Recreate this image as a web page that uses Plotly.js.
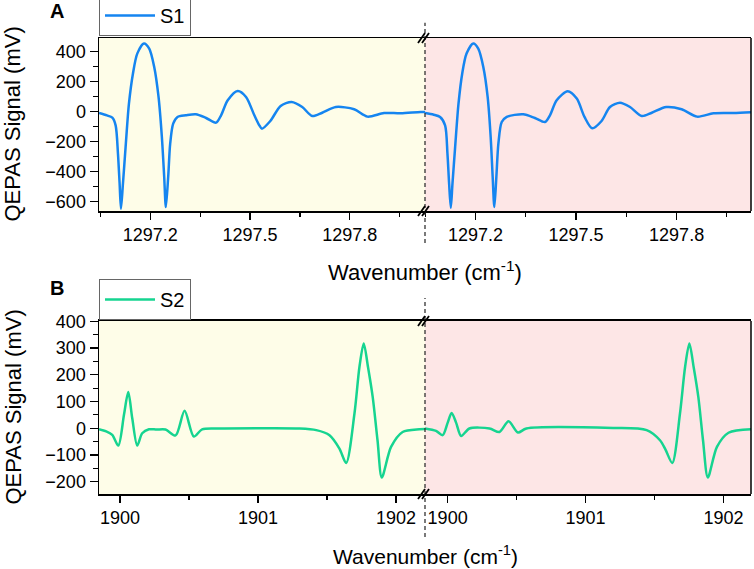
<!DOCTYPE html>
<html>
<head>
<meta charset="utf-8">
<script src="https://cdn.plot.ly/plotly-3.0.1.min.js"></script>
<style>html,body{margin:0;padding:0;background:#fff;}#chart{width:754px;height:569px;}</style>
</head>
<body>
<div id="chart"></div>
<script>
// ---- Panel A (S1) ----
const s1LeftX = [1297.046, 1297.070, 1297.086, 1297.096, 1297.103, 1297.108, 1297.112, 1297.118, 1297.126, 1297.136, 1297.148, 1297.161, 1297.181, 1297.197, 1297.212, 1297.225, 1297.235, 1297.242, 1297.247, 1297.254, 1297.260, 1297.269, 1297.282, 1297.307, 1297.337, 1297.368, 1297.398, 1297.413, 1297.433, 1297.463, 1297.488, 1297.513, 1297.528, 1297.536, 1297.561, 1297.592, 1297.625, 1297.657, 1297.687, 1297.717, 1297.758, 1297.813, 1297.853, 1297.903, 1297.953, 1298.013, 1298.026];
const s1LeftY = [-9, -25, -40, -91, -280, -480, -647, -480, -235, 53, 253, 387, 454, 420, 298, 98, -169, -435, -636, -435, -213, -80, -35, -24, -17, -42, -73, -24, 76, 138, 98, -24, -91, -113, -62, 38, 65, 31, -29, -7, 31, 16, -33, -9, -11, -2, -3];
const s1RightX = [1297.049, 1297.075, 1297.094, 1297.109, 1297.116, 1297.121, 1297.126, 1297.131, 1297.139, 1297.149, 1297.160, 1297.173, 1297.193, 1297.208, 1297.223, 1297.236, 1297.245, 1297.251, 1297.256, 1297.262, 1297.268, 1297.278, 1297.293, 1297.342, 1297.377, 1297.407, 1297.422, 1297.442, 1297.475, 1297.502, 1297.525, 1297.548, 1297.576, 1297.601, 1297.631, 1297.661, 1297.696, 1297.726, 1297.769, 1297.815, 1297.861, 1297.910, 1297.969, 1298.022];
const s1RightY = [-9, -20, -35, -91, -280, -480, -640, -480, -235, 53, 253, 387, 454, 420, 298, 98, -169, -435, -636, -435, -213, -69, -35, -17, -42, -69, -24, 76, 136, 87, -35, -111, -62, 31, 60, 31, -29, -7, 31, 16, -33, -11, -9, -4];

// ---- Panel B (S2) ----
const s2LeftX = [1899.848, 1899.900, 1899.944, 1899.988, 1900.029, 1900.060, 1900.089, 1900.125, 1900.161, 1900.210, 1900.265, 1900.330, 1900.403, 1900.468, 1900.535, 1900.595, 1900.716, 1901.000, 1901.301, 1901.422, 1901.518, 1901.590, 1901.639, 1901.699, 1901.735, 1901.766, 1901.797, 1901.831, 1901.866, 1901.897, 1901.964, 1902.048, 1902.169, 1902.210];
const s2LeftY = [-4, -12, -25, -65, 50, 135, 37, -65, -19, -4, -5, -5, -27, 65, -31, -4, -1, 0, -1, -7, -26, -76, -130, 55, 229, 317, 229, 117, -45, -184, -70, -14, -4, -3];
const s2RightX = [1899.836, 1899.916, 1899.964, 1900.000, 1900.029, 1900.062, 1900.098, 1900.158, 1900.304, 1900.376, 1900.442, 1900.510, 1900.571, 1901.200, 1901.443, 1901.540, 1901.580, 1901.629, 1901.685, 1901.722, 1901.753, 1901.784, 1901.818, 1901.852, 1901.887, 1901.953, 1902.037, 1902.202];
const s2RightY = [-1, -10, -26, 20, 57, 20, -29, -1, -1, -14, 26, -16, -1, 1, -7, -45, -80, -130, 55, 229, 317, 229, 117, -45, -184, -70, -17, -4];

const seriesNames = ["S1", "S2"];
const xTitle = "Wavenumber (cm<sup>-1</sup>)";
const yTitle = "QEPAS Signal (mV)";
const panelLabels = ["A", "B"];

const blue = "#1585f0";
const green = "#16d490";
const yellowBg = "#fefde8";
const pinkBg = "#fde6e6";
const FONT = "Liberation Sans, Arial, sans-serif";

const lineStyle = (c) => ({color: c, width: 2.5, shape: "spline", smoothing: 0.8});

const traces = [
  {x: s1LeftX, y: s1LeftY, xaxis: "x", yaxis: "y", mode: "lines", name: seriesNames[0], line: lineStyle(blue), legend: "legend"},
  {x: s1RightX, y: s1RightY, xaxis: "x2", yaxis: "y", mode: "lines", name: seriesNames[0], line: lineStyle(blue), showlegend: false},
  {x: s2LeftX, y: s2LeftY, xaxis: "x3", yaxis: "y2", mode: "lines", name: seriesNames[1], line: lineStyle(green), legend: "legend2"},
  {x: s2RightX, y: s2RightY, xaxis: "x4", yaxis: "y2", mode: "lines", name: seriesNames[1], line: lineStyle(green), showlegend: false}
];

const tickFont = {family: FONT, size: 18, color: "#000"};
function xAx(domain, anchor, range, tick0, dtick, mdtick) {
  return {domain: domain, anchor: anchor, range: range, tick0: tick0, dtick: dtick,
    showline: true, mirror: true, linecolor: "#000", linewidth: 1.5,
    ticks: "outside", ticklen: 7, tickwidth: 1.3, tickcolor: "#000",
    minor: {tick0: tick0, dtick: mdtick, ticks: "outside", ticklen: 4, tickwidth: 1.2, tickcolor: "#000", showgrid: false},
    showgrid: false, zeroline: false, tickfont: tickFont, tickformat: dtick < 1 ? ".1f" : "d"};
}
function yAx(domain, anchor, range, dtick, mdtick) {
  return {domain: domain, anchor: anchor, range: range, tick0: 0, dtick: dtick,
    showline: true, mirror: false, linecolor: "#000", linewidth: 1.5,
    ticks: "outside", ticklen: 8, tickwidth: 1.3, tickcolor: "#000",
    minor: {tick0: 0, dtick: mdtick, ticks: "outside", ticklen: 5, tickwidth: 1.2, tickcolor: "#000", showgrid: false},
    showgrid: false, zeroline: false, tickfont: tickFont};
}

const dA = [0.6206, 1], dB = [0, 0.3794];

const shapes = [];
function bg(xr, yr, color) {
  shapes.push({type: "rect", xref: xr + " domain", yref: yr + " domain", x0: 0, x1: 1, y0: 0, y1: 1, fillcolor: color, line: {width: 0}, layer: "below"});
}
bg("x", "y", yellowBg); bg("x2", "y", pinkBg); bg("x3", "y2", yellowBg); bg("x4", "y2", pinkBg);
// right borders
shapes.push({type: "line", xref: "paper", yref: "y domain", x0: 1, x1: 1, y0: 0, y1: 1, line: {color: "#000", width: 1.5}});
shapes.push({type: "line", xref: "paper", yref: "y2 domain", x0: 1, x1: 1, y0: 0, y1: 1, line: {color: "#000", width: 1.5}});
// dashed break lines
shapes.push({type: "line", xref: "paper", yref: "paper", x0: 0.5, x1: 0.5, y0: 0.5504, y1: 1.0335, line: {color: "#333", width: 1.3, dash: "4px,3px"}});
shapes.push({type: "line", xref: "paper", yref: "paper", x0: 0.5, x1: 0.5, y0: -0.0943, y1: 0.4298, line: {color: "#333", width: 1.3, dash: "4px,3px"}});
// break marks //
[dA[0], dA[1], dB[0], dB[1]].forEach(function (yy) {
  [-4, 0].forEach(function (off) {
    shapes.push({type: "line", xref: "paper", xsizemode: "pixel", xanchor: 0.5, x0: off - 3, x1: off + 4,
      yref: "paper", ysizemode: "pixel", yanchor: yy, y0: -5, y1: 5, line: {color: "#000", width: 1.8}});
  });
});

const annFont = {family: FONT, size: 22, color: "#000"};
const ann = (o) => Object.assign({xref: "paper", yref: "paper", showarrow: false, xanchor: "center", yanchor: "middle"}, o);
const annotations = [
  ann({text: panelLabels[0], x: -0.0637, y: 1.0592, font: {family: FONT, size: 20, color: "#000", weight: "bold"}}),
  ann({text: panelLabels[1], x: -0.0637, y: 0.4518, font: {family: FONT, size: 20, color: "#000", weight: "bold"}}),
  ann({text: xTitle, x: 0.5, y: 0.489, font: annFont}),
  ann({text: xTitle, x: 0.5, y: -0.134, font: {family: FONT, size: 21, color: "#000"}}),
  ann({text: yTitle, x: -0.1319, y: 0.8103, textangle: -90, font: annFont}),
  ann({text: yTitle, x: -0.1319, y: 0.1897, textangle: -90, font: annFont})
];

const legendBase = {xref: "paper", yref: "paper", x: 0, xanchor: "left", yanchor: "bottom",
  bgcolor: "#fff", bordercolor: "#666", borderwidth: 1, font: {family: FONT, size: 20, color: "#000"}, itemwidth: 50};

const layout = {
  width: 754, height: 569,
  margin: {l: 99, r: 3, t: 38, b: 75, autoexpand: false},
  paper_bgcolor: "#fff", plot_bgcolor: "rgba(0,0,0,0)",
  font: {family: FONT, color: "#000"},
  xaxis: xAx([0, 0.5], "y", [1297.046, 1298.026], 1297.2, 0.3, 0.15),
  xaxis2: xAx([0.5, 1], "y", [1297.049, 1298.022], 1297.2, 0.3, 0.15),
  xaxis3: xAx([0, 0.5], "y2", [1899.848, 1902.21], 1900, 1, 0.5),
  xaxis4: xAx([0.5, 1], "y2", [1899.836, 1902.2], 1900, 1, 0.5),
  yaxis: yAx(dA, "x", [-662, 491], 200, 100),
  yaxis2: yAx(dB, "x3", [-246, 401], 100, 50),
  legend: Object.assign({}, legendBase, {y: 1.0044}),
  legend2: Object.assign({}, legendBase, {y: 0.3816}),
  shapes: shapes,
  annotations: annotations
};

Plotly.newPlot("chart", traces, layout, {displayModeBar: false, staticPlot: true});
</script>
</body>
</html>
